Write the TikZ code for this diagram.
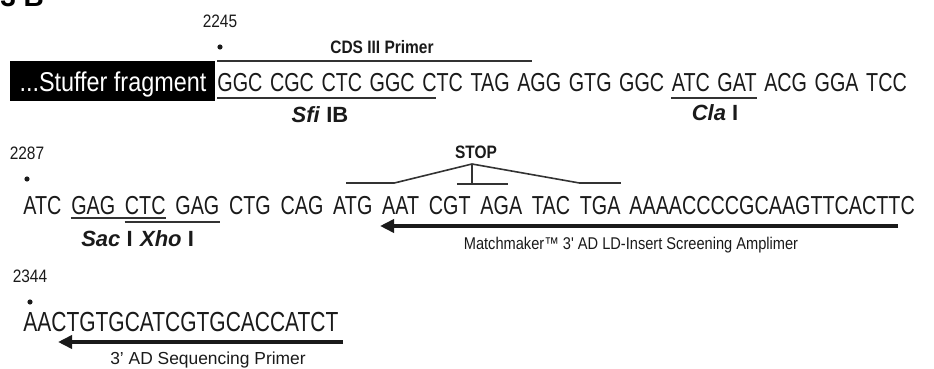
\documentclass[tikz,border=0pt]{standalone}
\usepackage{fontspec}
\setmainfont{Liberation Sans}
\newfontfamily\seqfont{Liberation Sans}[FakeStretch=0.76]
\newfontfamily\narrowfont{Liberation Sans}[FakeStretch=0.86]
\usepackage{tikz}
\usetikzlibrary{arrows.meta, positioning, calc}
\definecolor{seqtext}{HTML}{1A1A1A}
\colorlet{siterule}{black!80}
\newcommand{\seqsize}{\fontsize{13}{15}\selectfont}
% position number with its dot
\newcommand{\seqpos}[4]{%
  \node[posnum] (#1) at (#2,#3) {#4};
  \fill[seqtext] (#2,#3+26) circle (1.3pt);
}
\tikzset{
  codon/.style={inner sep=0pt, anchor=base west, text=seqtext, font=\seqfont\seqsize},
  posnum/.style={inner sep=0pt, text=seqtext, font=\narrowfont\fontsize{9}{11}\selectfont},
  enzyme/.style={inner sep=0pt, text=seqtext, font=\fontsize{11}{13}\selectfont\bfseries},
  tag/.style={inner sep=0pt, text=seqtext, font=\narrowfont\fontsize{9}{11}\selectfont\bfseries},
  primer/.style={inner sep=0pt, text=seqtext, font=\narrowfont\fontsize{8.5}{10}\selectfont},
  siteline/.style={draw=siterule, line width=0.8pt},
  primerarrow/.style={draw=seqtext, line width=2pt, -{Triangle[length=7pt, width=6.5pt]}},
  stuffer/.style={fill=black, text=white, inner xsep=0pt, inner ysep=0pt,
    minimum width=102.5pt, text height=15.5pt, text depth=4.5pt,
    font=\narrowfont\fontsize{13.6}{15}\selectfont},
}

\begin{document}
\begin{tikzpicture}[x=0.5pt, y=-0.5pt]
  \useasboundingbox (0,0) rectangle (934,369);
  \node[font=\fontsize{14}{16}\selectfont\bfseries, anchor=base west, inner sep=0pt] (figno) at (0,7) {3 B};

  % first row
  \node[stuffer, anchor=base west] (stuffer) at (10,92) {...Stuffer fragment};
  \node[codon] (a1) at (217,92) {GGC};
  \foreach \c [count=\i from 2, evaluate=\i as \j using int(\i-1)] in
      {CGC,CTC,GGC,CTC,TAG,AGG,GTG,GGC,ATC,GAT,ACG,GGA,TCC}
    \node[codon, base right=3.4pt of a\j] (a\i) {\c};
  \seqpos{n2245}{220}{21}{2245}
  % CDS III primer and Sfi IB site
  \draw[siteline] ($(a1.base west)+(0,-31)$) -- ($(a7.base west)!1/3!(a7.base east)+(0,-31)$);
  \node[tag] (cds) at (382,47) {CDS III Primer};
  \draw[siteline] ($(a1.base west)+(0,6)$) -- ($(a5.base west)!1/3!(a5.base east)+(0,6)$);
  \node[enzyme] (sfi) at (320,115) {\textit{Sfi} IB};
  % Cla I site
  \draw[siteline] ($(a10.base west)+(0,6)$) -- ($(a11.base east)+(0,6)$);
  \node[enzyme] (cla) at (715,113) {\textit{Cla} I};

  % second row
  \node[codon] (b1) at (23,215) {ATC};
  \foreach \c [count=\i from 2, evaluate=\i as \j using int(\i-1)] in
      {GAG,CTC,GAG,CTG,CAG,ATG,AAT,CGT,AGA,TAC,TGA}
    \node[codon, base right=4.5pt of b\j] (b\i) {\c};
  \node[codon] (b13) at (629,215) {AAAACCCCGCAAGTTCACTTC};
  \seqpos{n2287}{27}{153}{2287}
  % Sac I and Xho I sites
  \draw[siteline] ($(b2.base west)+(0,3)$) -- ($(b3.base east)+(0,3)$);
  \draw[siteline] ($(b3.base west)+(0,7)$) -- ($(b4.base east)+(0,7)$);
  \node[enzyme] (sac) at (107,239) {\textit{Sac} I};
  \node[enzyme] (xho) at (167,239) {\textit{Xho} I};

  % stop codons in the three frames
  \node[tag] (stop) at (476,152) {STOP};
  \coordinate (apex) at (472,164);
  \draw[siteline] ($(b7.base west)!1/3!(b7.base east)+(0,-32)$) -- ($(b8.base west)!1/3!(b8.base east)+(0,-32)$)
    -- (apex) -- ($(b12.base west)+(0,-32)$) -- ($(b12.base east)+(0,-32)$);
  \draw[siteline] ($(b9.base west)!2/3!(b9.base east)+(0,-31)$) coordinate (m1)
    -- ($(b10.base west)!2/3!(b10.base east)+(0,-31)$);
  \draw[siteline] (apex) -- (apex |- m1);

  % screening amplimer
  \coordinate (mm-from) at (898,226);
  \coordinate (mm-to) at (380,226);
  \draw[primerarrow] (mm-from) -- (mm-to);
  \node[primer] (mm) at (631,245) {Matchmaker™ 3' AD LD-Insert Screening Amplimer};

  % third row
  \seqpos{n2344}{30}{276}{2344}
  \node[codon, font=\seqfont\fontsize{13.8}{16}\selectfont] (c1) at (23,332) {AACTGTGCATCGTGCACCATCT};
  \coordinate (sq-from) at (343,342);
  \coordinate (sq-to) at (58,342);
  \draw[primerarrow] (sq-from) -- (sq-to);
  \node[primer, font=\fontsize{8.7}{10}\selectfont] (sq) at (208,360) {3' AD Sequencing Primer};
\end{tikzpicture}
\end{document}
